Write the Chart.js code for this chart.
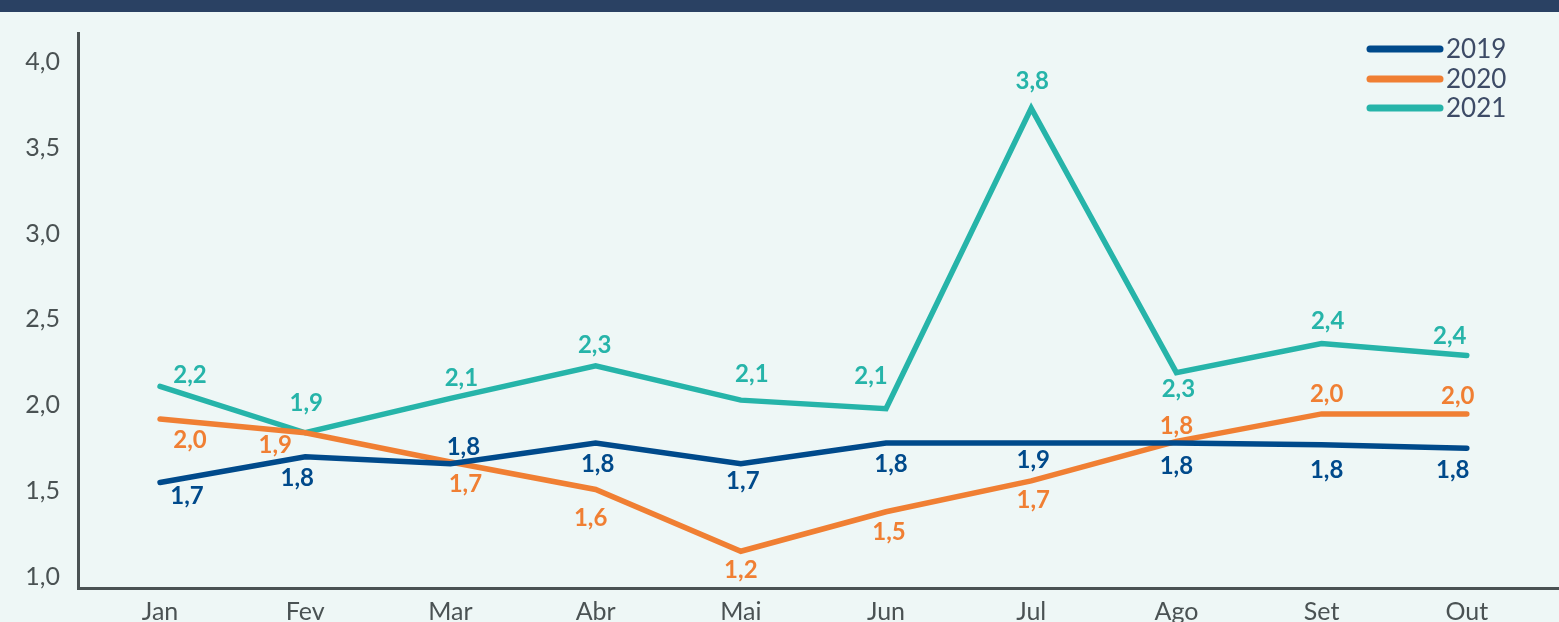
<!DOCTYPE html>
<html lang="pt">
<head>
<meta charset="UTF-8">
<title>Grafico</title>
<script src="https://cdn.jsdelivr.net/npm/chart.js"></script>
<style>
  body { margin: 0; background: #eef7f6; overflow: hidden; }
  canvas { display: block; }
</style>
</head>
<body>
<canvas id="grafico" width="1559" height="622"></canvas>
<script>
// dados
var meses = ['Jan', 'Fev', 'Mar', 'Abr', 'Mai', 'Jun', 'Jul', 'Ago', 'Set', 'Out']
var serie2019 = [1.55, 1.70, 1.66, 1.78, 1.66, 1.78, 1.78, 1.78, 1.77, 1.75]
var serie2020 = [1.92, 1.84, 1.67, 1.51, 1.15, 1.38, 1.56, 1.79, 1.95, 1.95]
var serie2021 = [2.11, 1.84, 2.04, 2.23, 2.03, 1.98, 3.73, 2.19, 2.36, 2.29]
var rotulos2019 = ['1,7', '1,8', '1,8', '1,8', '1,7', '1,8', '1,9', '1,8', '1,8', '1,8']
var rotulos2020 = ['2,0', '1,9', '1,7', '1,6', '1,2', '1,5', '1,7', '1,8', '2,0', '2,0']
var rotulos2021 = ['2,2', '1,9', '2,1', '2,3', '2,1', '2,1', '3,8', '2,3', '2,4', '2,4']
var ticksY = [1.0, 1.5, 2.0, 2.5, 3.0, 3.5, 4.0]

// deslocamento dos rotulos em relacao ao ponto
var desloc2019 = [[27,14],[-8,21],[13,-16],[2,21],[2,18],[5,21],[2,17],[0,23],[5,25],[-14,22]]
var desloc2020 = [[30,21],[-30,13],[15,22],[-5,29],[0,19],[3,21],[2,19],[0,-15],[5,-20],[-9,-18]]
var desloc2021 = [[30,-11],[1,-29],[11,-20],[-1,-21],[11,-26],[-15,-32],[1,-27],[2,17],[6,-22],[-17,-19]]

var cores = ['#004a8b', '#f07f33', '#26b4a9']

function pontos(serie) {
    return serie.map(function(v, i) { return { x: i, y: v } })
}

var fundo = {
    id: 'fundo',
    beforeDraw: function(chart) {
        var ctx = chart.ctx
        ctx.save()
        ctx.fillStyle = '#eef7f6'
        ctx.fillRect(0, 0, chart.width, chart.height)
        ctx.fillStyle = '#2a4163'
        ctx.fillRect(0, 0, chart.width, 12)
        ctx.restore()
    }
}

var rotulos = {
    id: 'rotulos',
    afterDatasetsDraw: function(chart) {
        var ctx = chart.ctx
        ctx.save()
        ctx.font = 'bold 24px Lato'
        ctx.textAlign = 'center'
        ctx.textBaseline = 'middle'
        chart.data.datasets.forEach(function(ds, i) {
            var meta = chart.getDatasetMeta(i)
            ctx.fillStyle = ds.borderColor
            meta.data.forEach(function(p, j) {
                var d = ds.desloc[j]
                ctx.fillText(ds.rotulos[j], p.x + d[0], p.y + d[1])
            })
        })
        ctx.restore()
    }
}

var legenda = {
    id: 'legenda',
    afterDraw: function(chart) {
        var ctx = chart.ctx
        ctx.save()
        ctx.font = '26px Lato'
        ctx.textBaseline = 'middle'
        ctx.lineCap = 'round'
        var ys = [49, 79, 108]
        chart.data.datasets.forEach(function(ds, i) {
            ctx.strokeStyle = ds.borderColor
            ctx.lineWidth = 7
            ctx.beginPath()
            ctx.moveTo(1370, ys[i])
            ctx.lineTo(1440, ys[i])
            ctx.stroke()
            ctx.fillStyle = '#3d4b66'
            ctx.fillText(ds.label, 1446, ys[i] + 1)
        })
        ctx.restore()
    }
}

var ctx = document.getElementById('grafico').getContext('2d')
var myChart = new Chart(ctx, {
    type: 'line',
    data: {
        datasets: [
            { label: '2019', data: pontos(serie2019), rotulos: rotulos2019, desloc: desloc2019, borderColor: cores[0] },
            { label: '2020', data: pontos(serie2020), rotulos: rotulos2020, desloc: desloc2020, borderColor: cores[1] },
            { label: '2021', data: pontos(serie2021), rotulos: rotulos2021, desloc: desloc2021, borderColor: cores[2] }
        ]
    },
    options: {
        responsive: false,
        animation: false,
        events: [],
        layout: { padding: { top: 31, right: 0, left: 0, bottom: 0 } },
        elements: {
            line: { borderWidth: 5.5, tension: 0, borderCapStyle: 'round', borderJoinStyle: 'miter', fill: false },
            point: { radius: 0 }
        },
        plugins: {
            legend: { display: false },
            tooltip: { enabled: false }
        },
        scales: {
            x: {
                type: 'linear',
                min: -0.565,
                max: 9.635,
                afterBuildTicks: function(scale) {
                    scale.ticks = meses.map(function(m, i) { return { value: i } })
                },
                afterFit: function(scale) { scale.height = 34 },
                grid: { display: false, drawTicks: false },
                border: { color: '#4a5253', width: 3 },
                ticks: {
                    autoSkip: false,
                    maxRotation: 0,
                    padding: 9,
                    color: '#4a5253',
                    font: { family: 'Lato', size: 25 },
                    callback: function(v) { return meses[v] }
                }
            },
            y: {
                min: 0.936,
                max: 4.168,
                afterBuildTicks: function(scale) {
                    scale.ticks = ticksY.map(function(v) { return { value: v } })
                },
                afterFit: function(scale) { scale.width = 78 },
                grid: { display: false, drawTicks: false },
                border: { color: '#4a5253', width: 3 },
                ticks: {
                    padding: 18,
                    color: '#4a5253',
                    font: { family: 'Lato', size: 25 },
                    callback: function(v) { return v.toFixed(1).replace('.', ',') }
                }
            }
        }
    },
    plugins: [fundo, rotulos, legenda]
})
</script>
</body>
</html>
